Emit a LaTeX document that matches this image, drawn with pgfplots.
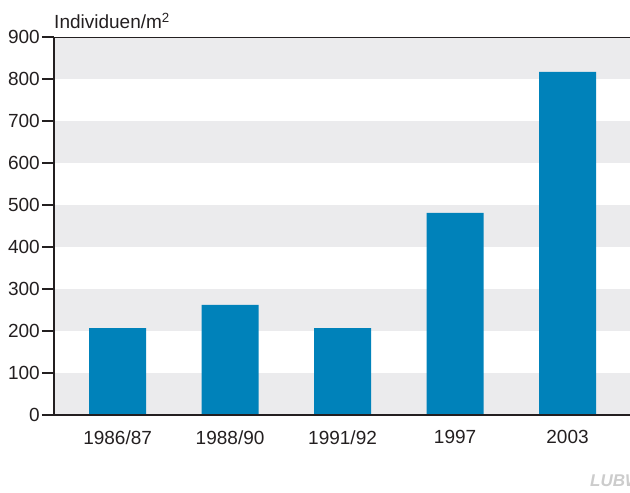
\documentclass[border=0pt]{standalone}
\usepackage{fontspec}
\setmainfont{Liberation Sans}
\usepackage{pgfplots}
\pgfplotsset{compat=1.18}
\definecolor{barblue}{HTML}{0082BA}
\definecolor{band}{HTML}{EBEBED}
\definecolor{ink}{HTML}{231F20}
\begin{document}
\begin{tikzpicture}[font=\fontsize{19}{22}\selectfont]
\useasboundingbox (-42pt,-78pt) rectangle (588pt,415pt);
\begin{axis}[at={(0,0)}, anchor=south west, scale only axis,
  width=588pt, height=378pt,
  xmin=-0.672, xmax=4.555, ymin=0, ymax=900,
  axis lines=left, clip=false,
  axis line style={-, line width=2.2pt, ink},
  y axis line style={draw=none},
  ybar, bar width=57pt,
  ytick={0,100,...,900},
  major tick length=0pt,
  ytick style={draw=none},
  xtick style={draw=none},
  yticklabel style={inner xsep=2pt},
  xtick=data,
  xticklabels={1986/87,1988/90,1991/92,1997,2003},
  xticklabel style={yshift=-12pt},
  tick label style={text=ink},
  /pgf/number format/assume math mode=true,
  axis on top,
]
% grey bands behind the bars
\fill[band] (axis cs:-0.565,0) rectangle (axis cs:4.555,100);
\fill[band] (axis cs:-0.565,200) rectangle (axis cs:4.555,300);
\fill[band] (axis cs:-0.565,400) rectangle (axis cs:4.555,500);
\fill[band] (axis cs:-0.565,600) rectangle (axis cs:4.555,700);
\fill[band] (axis cs:-0.565,800) rectangle (axis cs:4.555,900);
\draw[ink, line width=0.8pt] (axis cs:-0.565,900) -- (axis cs:4.555,900);
% y axis line
\draw[ink, line width=2.2pt] (axis cs:-0.565,0) -- (axis cs:-0.565,900);

\addplot[fill=barblue, draw=none] coordinates {
  (0,207) (1,262) (2,207) (3,481) (4,817)
};

\node[anchor=base west, text=ink, inner sep=0pt] at ([yshift=8pt]axis cs:-0.565,900) {Individuen/m\textsuperscript{2}};
\end{axis}
% y ticks (100 units = 42pt), as paths and as rules on top of each other
\foreach \k in {0,...,9}{
  \fill[ink] (0pt,\k*42pt-0.9pt) rectangle (12pt,\k*42pt+0.9pt);
  \node[inner sep=0pt, anchor=east, text=ink] at (12pt,\k*42pt) {\rule{12pt}{1.8pt}};
}
\node[anchor=west, text=black!20, font=\fontsize{17}{20}\selectfont\bfseries\itshape, inner sep=0pt] at (548pt,-66pt) {LUBW};
\end{tikzpicture}
\end{document}
